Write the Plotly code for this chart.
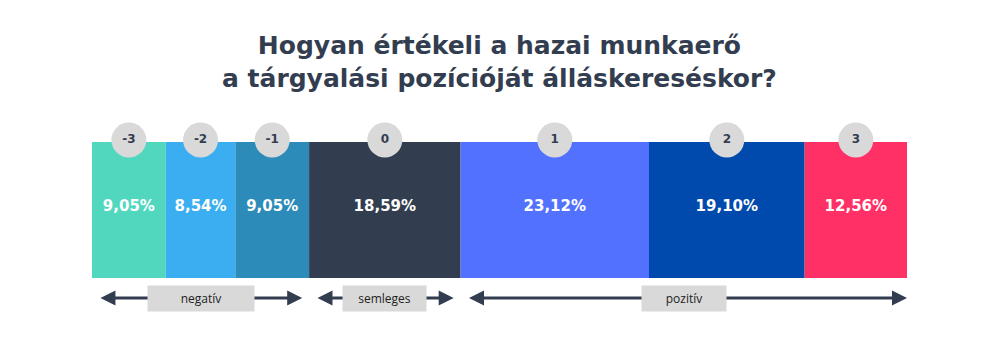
import plotly.graph_objects as go

categories = ["-3", "-2", "-1", "0", "1", "2", "3"]
values = [9.05, 8.54, 9.05, 18.59, 23.12, 19.10, 12.56]
value_labels = ["9,05%", "8,54%", "9,05%", "18,59%", "23,12%", "19,10%", "12,56%"]
colors = ["#52d7bf", "#3aaef0", "#2d8bb9", "#333d50", "#5271ff", "#004aad", "#ff3066"]
groups = ["negatív", "semleges", "pozitív"]
group_members = [[0, 1, 2], [3], [4, 5, 6]]
group_box_widths = [104, 81, 82]
title_lines = ["Hogyan értékeli a hazai munkaerő", "a tárgyalási pozícióját álláskereséskor?"]

DARK = "#333d50"
FONT = "Open Sans"
WIDE = "DejaVu Sans"

total = sum(values)
bases = []
acc = 0.0
for v in values:
    bases.append(acc)
    acc += v
centers = [b + v / 2 for b, v in zip(bases, values)]

fig = go.Figure()

BAR_Y = 210
BAR_H = 136
for cat, v, b, c in zip(categories, values, bases, colors):
    fig.add_trace(go.Bar(
        x=[v], y=[BAR_Y], base=[b], orientation="h", width=BAR_H,
        marker=dict(color=c, line=dict(width=0)), showlegend=False, hoverinfo="skip",
    ))

# percentage labels
fig.add_trace(go.Scatter(
    x=centers, y=[207] * len(values), mode="text", text=value_labels,
    textfont=dict(family=WIDE, size=15, color="white", weight="bold"),
    showlegend=False, hoverinfo="skip",
))

# category circles
fig.add_trace(go.Scatter(
    x=centers, y=[140] * len(values), mode="markers+text", text=categories,
    marker=dict(size=35, color="#d9d9d9", line=dict(width=0)),
    textposition="middle center",
    textfont=dict(family=WIDE, size=12, color=DARK, weight="bold"),
    showlegend=False, hoverinfo="skip",
))

inset = 0.85
for g, members, bw in zip(groups, group_members, group_box_widths):
    x0 = bases[members[0]] + inset
    last = members[-1]
    x1 = bases[last] + values[last] - (inset if last != len(values) - 1 else 0)
    fig.add_annotation(
        x=x1, y=298, ax=x0, ay=298, axref="x", ayref="y", xref="x", yref="y",
        text="", showarrow=True, arrowside="end+start", arrowhead=2,
        arrowsize=1.0, arrowwidth=3, arrowcolor=DARK, standoff=0, startstandoff=0,
    )
    fig.add_annotation(
        x=(bases[members[0]] + bases[last] + values[last]) / 2, y=298,
        xref="x", yref="y", text=g, showarrow=False,
        bgcolor="#d9d9d9", width=bw, height=23, align="center", valign="middle",
        font=dict(family=FONT, size=12, color="#222222"),
    )

fig.add_annotation(
    x=0.5, xref="paper", y=62, yref="y", showarrow=False,
    text="<br>".join(title_lines), align="center",
    font=dict(family=WIDE, size=25, color=DARK, weight="bold"),
)

fig.update_layout(
    width=1000, height=350, margin=dict(l=92, r=93, t=0, b=0),
    paper_bgcolor="white", plot_bgcolor="white", barmode="overlay",
    xaxis=dict(range=[0, total], visible=False, fixedrange=True),
    yaxis=dict(range=[350, 0], visible=False, fixedrange=True),
)

fig.write_html("out.html")
